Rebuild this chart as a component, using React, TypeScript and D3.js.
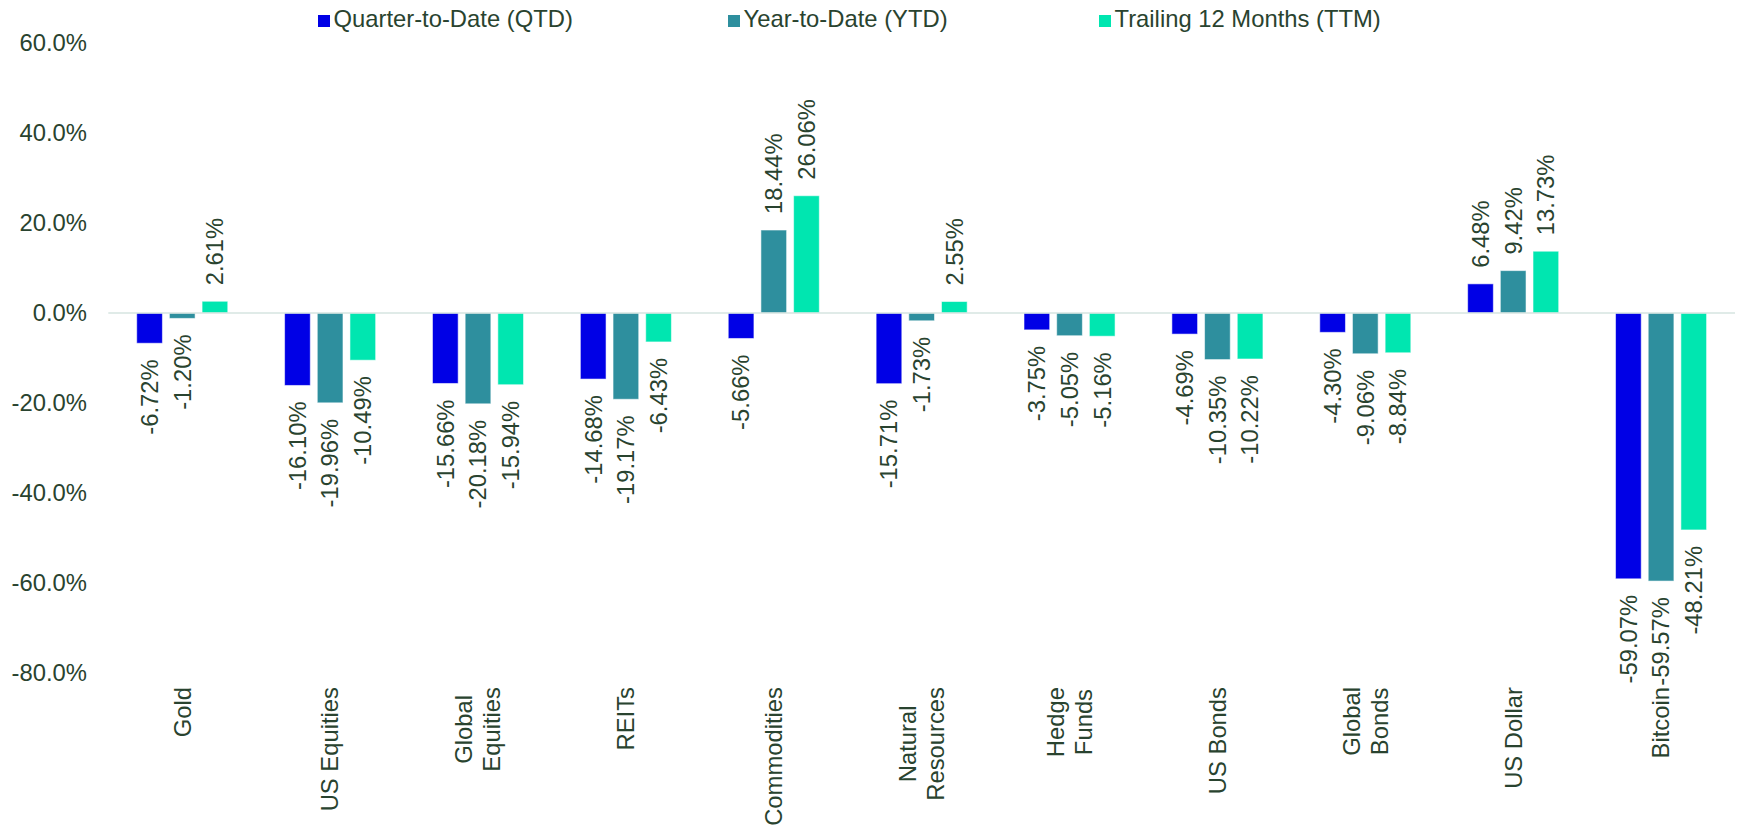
import * as d3 from "d3";
import { useEffect, useRef } from "react";

// asset classes (line breaks as in the original axis)
const categories = [
  "Gold",
  "US Equities",
  "Global\nEquities",
  "REITs",
  "Commodities",
  "Natural\nResources",
  "Hedge\nFunds",
  "US Bonds",
  "Global\nBonds",
  "US Dollar",
  "Bitcoin",
];

const seriesNames = [
  "Quarter-to-Date (QTD)",
  "Year-to-Date (YTD)",
  "Trailing 12 Months (TTM)",
];

const qtd = [-6.72, -16.1, -15.66, -14.68, -5.66, -15.71, -3.75, -4.69, -4.3, 6.48, -59.07];
const ytd = [-1.2, -19.96, -20.18, -19.17, 18.44, -1.73, -5.05, -10.35, -9.06, 9.42, -59.57];
const ttm = [2.61, -10.49, -15.94, -6.43, 26.06, 2.55, -5.16, -10.22, -8.84, 13.73, -48.21];

const yTicks = [60, 40, 20, 0, -20, -40, -60, -80];

const colors = ["#0000E6", "#2E8F9E", "#00E6B0"];
const textColor = "#29432F";
const fontFamily = "'Liberation Sans', Arial, sans-serif";
const fontSize = 23.8;

function App() {
  const ref = useRef<SVGSVGElement>(null);

  useEffect(() => {
    const svg = d3.select(ref.current);
    svg.selectAll("*").remove();

    const left = 108.3;
    const right = 1735;

    const x0 = d3
      .scaleBand()
      .domain(categories)
      .range([left, right])
      .paddingInner(0.337)
      .paddingOuter(0.1685);

    const x1 = d3
      .scaleBand()
      .domain(seriesNames)
      .range([0, x0.bandwidth()])
      .paddingInner(0.214)
      .paddingOuter(0.107);

    const y = d3.scaleLinear().domain([-80, 60]).range([673, 43]);

    const rows = categories.map((c, i) => ({
      cat: c,
      vals: [qtd[i], ytd[i], ttm[i]],
    }));

    const g = svg
      .append("g")
      .attr("font-family", fontFamily)
      .attr("font-size", fontSize)
      .attr("fill", textColor);

    // y axis labels
    g.append("g")
      .selectAll("text")
      .data(yTicks)
      .join("text")
      .attr("x", 87)
      .attr("y", (d) => y(d))
      .attr("dy", "0.35em")
      .attr("text-anchor", "end")
      .text((d) => `${d.toFixed(1)}%`);

    // bars
    const groups = g
      .append("g")
      .selectAll("g")
      .data(rows)
      .join("g")
      .attr("transform", (d) => `translate(${x0(d.cat)},0)`);

    groups
      .selectAll("rect")
      .data((d) => d.vals.map((v, k) => ({ name: seriesNames[k], value: v, k })))
      .join("rect")
      .attr("x", (d) => x1(d.name)!)
      .attr("width", x1.bandwidth())
      .attr("y", (d) => (d.value >= 0 ? y(d.value) : y(0)))
      .attr("height", (d) => Math.abs(y(d.value) - y(0)))
      .attr("fill", (d) => colors[d.k])
      .attr("stroke", "rgba(255,255,255,0.55)")
      .attr("stroke-width", 1);

    // value labels, rotated
    groups
      .selectAll("text")
      .data((d) => d.vals.map((v, k) => ({ name: seriesNames[k], value: v })))
      .join("text")
      .attr("transform", (d) => {
        const cx = x1(d.name)! + x1.bandwidth() / 2;
        const yy = d.value >= 0 ? y(d.value) - 16 : y(d.value) + 16;
        return `translate(${cx},${yy}) rotate(-90)`;
      })
      .attr("dy", "0.35em")
      .attr("text-anchor", (d) => (d.value >= 0 ? "start" : "end"))
      .text((d) => `${d.value.toFixed(2)}%`);

    // zero line
    g.append("line")
      .attr("x1", left)
      .attr("x2", right)
      .attr("y1", y(0))
      .attr("y2", y(0))
      .attr("stroke", "#D6E4E0")
      .attr("stroke-width", 1.6);

    // category labels, rotated, lines centred, block top at fixed y
    const labelTop = 687;
    const lineStep = 28.2;
    categories.forEach((c) => {
      const lines = c.split("\n");
      const cx = x0(c)! + x0.bandwidth() / 2;
      const lab = g.append("g");
      const texts = lines.map((ln, i) =>
        lab
          .append("text")
          .attr("text-anchor", "middle")
          .attr("dy", "0.35em")
          .text(ln)
          .datum(i)
      );
      const maxLen = d3.max(texts, (t) => (t.node() as SVGTextElement).getComputedTextLength()) || 0;
      texts.forEach((t, i) => {
        const lx = cx + (i - (lines.length - 1) / 2) * lineStep;
        t.attr("transform", `translate(${lx},${labelTop + maxLen / 2}) rotate(-90)`);
      });
    });

    // legend
    const legendX = [318, 728, 1099];
    const legend = g
      .append("g")
      .selectAll("g")
      .data(seriesNames)
      .join("g")
      .attr("transform", (_, i) => `translate(${legendX[i]},0)`);
    legend
      .append("rect")
      .attr("x", 0)
      .attr("y", 15)
      .attr("width", 12)
      .attr("height", 12)
      .attr("fill", (_, i) => colors[i]);
    legend
      .append("text")
      .attr("x", 15.5)
      .attr("y", 27)
      .text((d) => d);
  }, []);

  return (
    <svg
      ref={ref}
      width={1739}
      height={825}
      style={{ position: "absolute", left: 0, top: 0, background: "#fff" }}
    />
  );
}

export default App;
